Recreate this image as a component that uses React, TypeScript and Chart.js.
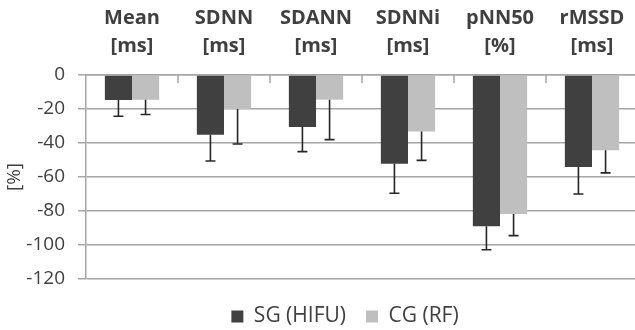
import React, { useEffect, useRef } from "react";
import { Chart, registerables } from "chart.js";

Chart.register(...registerables);

const categories: string[][] = [
  ["Mean", "[ms]"],
  ["SDNN", "[ms]"],
  ["SDANN", "[ms]"],
  ["SDNNi", "[ms]"],
  ["pNN50", "[%]"],
  ["rMSSD", "[ms]"],
];
const seriesNames = ["SG (HIFU)", "CG (RF)"];
const sgValues = [-14.7, -35.1, -30.6, -52.2, -89.0, -54.1];
const sgErrors = [9.6, 15.5, 14.5, 17.4, 13.8, 15.9];
const cgValues = [-14.6, -20.0, -14.5, -33.3, -81.8, -44.3];
const cgErrors = [8.6, 20.6, 23.5, 16.9, 12.7, 13.3];
const yTitle = "[%]";

const FONT = "'Open Sans', 'DejaVu Sans', sans-serif";
const TEXT = "#404040";
const GRID = "#a6a6a6";

Chart.defaults.font.family = FONT;
Chart.defaults.font.size = 19;
Chart.defaults.color = TEXT;

const errorBarPlugin = {
  id: "errorBars",
  afterDatasetsDraw(chart: any) {
    const ctx = chart.ctx;
    const yScale = chart.scales.y;
    const errs = [sgErrors, cgErrors];
    ctx.save();
    ctx.strokeStyle = "#262626";
    ctx.lineWidth = 1.6;
    chart.data.datasets.forEach((ds: any, di: number) => {
      const meta = chart.getDatasetMeta(di);
      meta.data.forEach((bar: any, i: number) => {
        const v = ds.data[i] as number;
        const end = yScale.getPixelForValue(v - errs[di][i]);
        ctx.beginPath();
        ctx.moveTo(bar.x, bar.y);
        ctx.lineTo(bar.x, end);
        ctx.moveTo(bar.x - 5, end);
        ctx.lineTo(bar.x + 5, end);
        ctx.stroke();
      });
    });
    ctx.restore();
  },
};

const boundaryTickPlugin = {
  id: "boundaryTicks",
  afterDatasetsDraw(chart: any) {
    const ctx = chart.ctx;
    const x = chart.scales.x;
    const top = chart.chartArea.top;
    ctx.save();
    ctx.strokeStyle = GRID;
    ctx.lineWidth = 1.5;
    for (let i = 0; i < categories.length - 1; i++) {
      const px = (x.getPixelForValue(i) + x.getPixelForValue(i + 1)) / 2;
      ctx.beginPath();
      ctx.moveTo(px, top);
      ctx.lineTo(px, top + 8);
      ctx.stroke();
    }
    ctx.restore();
  },
};

export default function App() {
  const ref = useRef<HTMLCanvasElement | null>(null);
  useEffect(() => {
    if (!ref.current) return;
    const chart = new Chart(ref.current, {
      type: "bar",
      data: {
        labels: categories,
        datasets: [
          {
            label: seriesNames[0],
            data: sgValues,
            backgroundColor: "#404040",
            borderWidth: 0,
          },
          {
            label: seriesNames[1],
            data: cgValues,
            backgroundColor: "#bfbfbf",
            borderWidth: 0,
          },
        ],
      },
      options: {
        responsive: false,
        animation: false,
        events: [],
        layout: { padding: { left: 0, right: 0, top: -3, bottom: -7 } },
        datasets: {
          bar: { categoryPercentage: 0.59, barPercentage: 1.0 },
        },
        scales: {
          x: {
            position: "top",
            offset: true,
            grid: { display: false },
            border: { display: true, color: GRID, width: 1.5 },
            ticks: {
              color: TEXT,
              padding: 7,
              font: { family: FONT, size: 20, weight: "bold", lineHeight: 1.4 },
              maxRotation: 0,
              autoSkip: false,
            },
          },
          y: {
            min: -120,
            max: 0,
            afterFit: (scale: any) => {
              scale.width = 86;
            },
            grid: { color: GRID, lineWidth: 1.5, tickLength: 8 },
            border: { display: true, color: GRID, width: 1.5 },
            ticks: {
              stepSize: 20,
              autoSkip: false,
              color: TEXT,
              padding: 13,
              font: { family: FONT, size: 19 },
            },
            title: {
              display: true,
              text: yTitle,
              color: TEXT,
              font: { family: FONT, size: 19 },
              padding: { top: 3, bottom: 2 },
            },
          },
          yPad: {
            type: "linear",
            position: "right",
            display: true,
            afterFit: (scale: any) => {
              scale.width = 52;
            },
            grid: { display: false, drawTicks: false },
            border: { display: false },
            ticks: { display: false },
          },
        },
        plugins: {
          tooltip: { enabled: false },
          legend: {
            position: "bottom",
            title: { display: true, text: "", font: { size: 5 }, padding: { top: 1, bottom: 0 } },
            labels: {
              boxWidth: 12,
              boxHeight: 12,
              padding: 20,
              color: TEXT,
              font: { family: FONT, size: 21 },
            },
          },
        },
      },
      plugins: [errorBarPlugin, boundaryTickPlugin],
    });
    return () => chart.destroy();
  }, []);
  return (
    <div
      style={{
        position: "fixed",
        left: 0,
        top: 0,
        width: 635,
        height: 330,
        overflow: "hidden",
        background: "#fff",
      }}
    >
      <canvas ref={ref} width={690} height={330} style={{ display: "block" }} />
    </div>
  );
}
